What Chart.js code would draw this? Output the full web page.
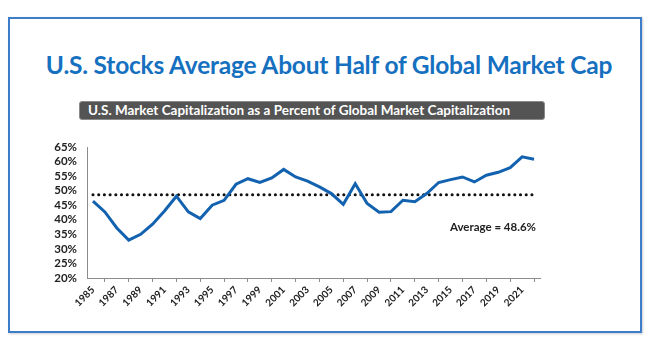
<!DOCTYPE html>
<html>
<head>
<meta charset="utf-8">
<script src="https://cdn.jsdelivr.net/npm/chart.js@4.4.0/dist/chart.umd.min.js"></script>
<style>
  html, body { margin: 0; padding: 0; background: #fff; }
  body { width: 650px; height: 350px; position: relative; overflow: hidden; font-family: Lato, 'Open Sans', sans-serif; }
  .frame {
    position: absolute; left: 8px; top: 17px; width: 630px; height: 312px;
    border: 2px solid #3d7cc9; box-shadow: 1px 1px 2px rgba(0,0,0,0.2);
  }
  h1 {
    position: absolute; left: 4px; width: 650px; top: 50px; margin: 0;
    text-align: center; font-size: 24.5px; font-weight: 700; color: #1670c0;
    letter-spacing: -0.2px;
  }
  .banner {
    position: absolute; left: 79px; top: 101px; width: 466px; height: 19px;
    background: #545454; border-radius: 3px; border: 1px solid #8a8a8a; box-sizing: border-box;
    color: #fff; font-size: 13.5px; font-weight: 700; line-height: 17px; padding-left: 8px;
  }
  #wrap { position: absolute; left: 0; top: 0; width: 650px; height: 350px; }
</style>
</head>
<body>
<div class="frame"></div>
<h1>U.S. Stocks Average About Half of Global Market Cap</h1>
<div class="banner">U.S. Market Capitalization as a Percent of Global Market Capitalization</div>
<div id="wrap"><canvas id="chart" width="650" height="350"></canvas></div>
<script>
// data (percent of global market cap)
const years = ['1985','1986','1987','1988','1989','1990','1991','1992','1993','1994',
  '1995','1996','1997','1998','1999','2000','2001','2002','2003','2004',
  '2005','2006','2007','2008','2009','2010','2011','2012','2013','2014',
  '2015','2016','2017','2018','2019','2020','2021','2022'];
const usShare = [46.4, 42.7, 37.2, 33.0, 35.0, 38.5, 43.0, 48.1, 42.7, 40.4,
  45.0, 46.7, 52.2, 54.1, 52.8, 54.4, 57.3, 54.7, 53.3, 51.3,
  49.0, 45.3, 52.4, 45.6, 42.6, 42.8, 46.7, 46.2, 49.0, 52.8,
  53.8, 54.7, 53.0, 55.3, 56.3, 57.9, 61.6, 60.8];
const average = 48.6;
const averageLabel = 'Average = 48.6%';

const axisColor = '#8c8c8c';

const avgLabelPlugin = {
  id: 'avgLabel',
  afterDatasetsDraw(chart) {
    const ctx = chart.ctx;
    const x = chart.scales.x.getPixelForValue(years.length - 1) + 2;
    const y = chart.scales.y.getPixelForValue(average) + 33;
    ctx.save();
    ctx.font = 'bold 11.5px Lato';
    ctx.fillStyle = '#222';
    ctx.textAlign = 'right';
    ctx.textBaseline = 'middle';
    ctx.fillText(averageLabel, x, y);
    ctx.restore();
  }
};

new Chart(document.getElementById('chart'), {
  type: 'line',
  data: {
    labels: years,
    datasets: [
      {
        data: usShare,
        borderColor: '#1262b0',
        borderWidth: 3,
        pointRadius: 0,
        tension: 0
      },
      {
        data: years.map(() => average),
        borderColor: '#111',
        borderWidth: 3,
        borderDash: [0.1, 5.6],
        borderCapStyle: 'round',
        pointRadius: 0
      }
    ]
  },
  options: {
    responsive: false,
    animation: false,
    layout: { padding: { left: 42, right: 110, top: 147, bottom: 30 } },
    plugins: { legend: { display: false }, tooltip: { enabled: false } },
    scales: {
      x: {
        offset: true,
        grid: { offset: true, drawOnChartArea: false, drawTicks: true, tickLength: 4, color: axisColor },
        border: { color: axisColor, width: 1 },
        ticks: {
          autoSkip: false, maxRotation: 45, minRotation: 45, padding: 2,
          color: '#222', font: { family: 'Lato', weight: 'bold', size: 10 },
          callback: (v, i) => (i % 2 === 0 ? years[i] : null)
        },
        afterFit: s => { s.height = 42; }
      },
      y: {
        min: 20, max: 65,
        grid: { drawOnChartArea: false, tickLength: 0, color: axisColor },
        border: { color: axisColor, width: 1 },
        ticks: {
          autoSkip: false, stepSize: 5, padding: 10, color: '#222',
          font: { family: 'Lato', weight: 'bold', size: 11.5 },
          callback: v => v + '%'
        },
        afterFit: s => { s.width = 45; }
      }
    }
  },
  plugins: [avgLabelPlugin]
});
</script>
</body>
</html>
